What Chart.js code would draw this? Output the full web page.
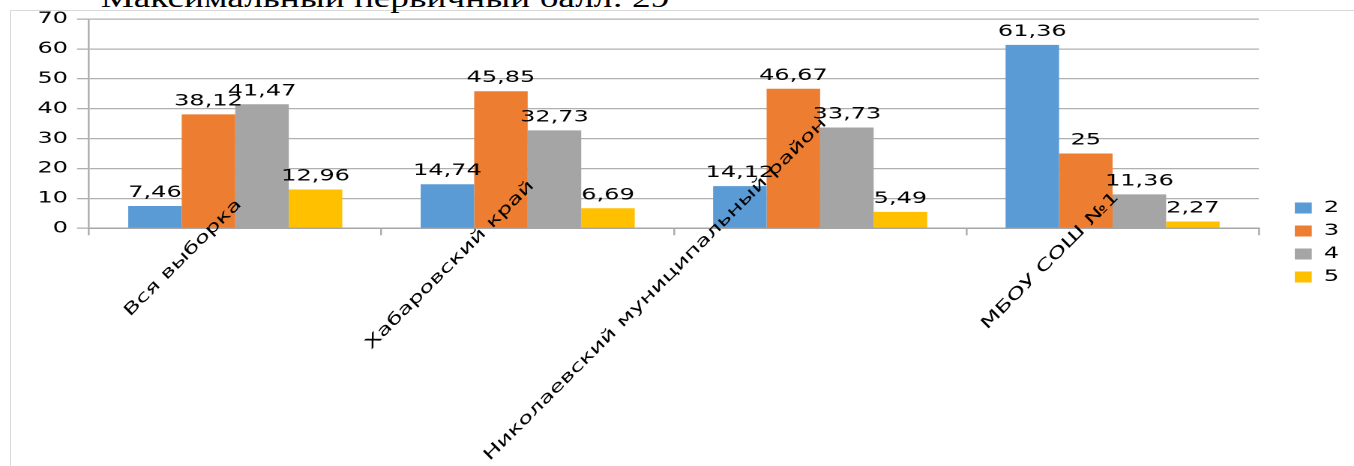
<!DOCTYPE html>
<html>
<head>
<meta charset="utf-8">
<script src="https://cdn.jsdelivr.net/npm/chart.js@4.4.1/dist/chart.umd.min.js"></script>
<style>
  html, body { margin: 0; padding: 0; background: #fff; overflow: hidden; }
  #frame { position: absolute; left: 10px; top: 10px; width: 1400px; height: 500px;
           border-left: 1px solid #d9d9d9; border-top: 1px solid #d9d9d9; }
  #heading { position: absolute; left: 385px; top: -16px; font-family: 'Liberation Serif', serif;
             font-size: 28px; line-height: 28px; white-space: nowrap; color: #000;
             transform: translateX(-50%) scaleX(1.33); transform-origin: center; }
  #chart { position: absolute; left: 0; top: 0; }
</style>
</head>
<body>
<div id="frame"></div>
<div id="heading">Максимальный первичный балл: 29</div>
<canvas id="chart" width="903" height="466" style="width:1354px;height:466px"></canvas>
<script>
const categories = ['Вся выборка', 'Хабаровский край', 'Николаевский муниципальный район', 'МБОУ СОШ №1']
const grade2 = [7.46, 14.74, 14.12, 61.36]
const grade3 = [38.12, 45.85, 46.67, 25]
const grade4 = [41.47, 32.73, 33.73, 11.36]
const grade5 = [12.96, 6.69, 5.49, 2.27]
const seriesNames = ['2', '3', '4', '5']
const seriesColors = ['#5b9bd5', '#ed7d31', '#a5a5a5', '#ffc000']

// the picture is drawn with wide type, so the canvas is stretched sideways by CSS
const STRETCH = 1354 / 903
const FONT = '16px "DejaVu Sans"'

Chart.defaults.font.family = 'DejaVu Sans'
Chart.defaults.font.size = 16
Chart.defaults.color = '#000'

const valueLabels = {
  id: 'valueLabels',
  afterDatasetsDraw(chart) {
    const ctx = chart.ctx
    ctx.save()
    ctx.font = FONT
    ctx.fillStyle = '#000'
    ctx.textAlign = 'center'
    ctx.textBaseline = 'alphabetic'
    chart.data.datasets.forEach((ds, i) => {
      chart.getDatasetMeta(i).data.forEach((bar, j) => {
        ctx.fillText(String(ds.data[j]).replace('.', ','), bar.x, bar.y - 9)
      })
    })
    ctx.restore()
  }
}

// slanted category names, kept undistorted by undoing the sideways stretch
const categoryLabels = {
  id: 'categoryLabels',
  afterDraw(chart) {
    const ctx = chart.ctx
    const x = chart.scales.x
    ctx.save()
    ctx.font = FONT
    ctx.fillStyle = '#000'
    ctx.textAlign = 'right'
    ctx.textBaseline = 'middle'
    chart.data.labels.forEach((label, i) => {
      const len = ctx.measureText(label).width * STRETCH
      const dx = len / Math.SQRT2
      ctx.save()
      ctx.scale(1 / STRETCH, 1)
      ctx.translate(x.getPixelForValue(i) * STRETCH + 4, x.top + 14 - 0.36 * dx)
      ctx.rotate(-Math.PI / 4)
      ctx.scale(STRETCH, 1)
      ctx.fillText(label, 0, 0)
      ctx.restore()
    })
    ctx.restore()
  }
}

const grades = [grade2, grade3, grade4, grade5]

new Chart(document.getElementById('chart'), {
  type: 'bar',
  data: {
    labels: categories,
    datasets: grades.map((d, i) => ({
      label: seriesNames[i],
      data: d,
      backgroundColor: seriesColors[i],
      borderWidth: 0,
      categoryPercentage: 0.732,
      barPercentage: 1,
    })),
  },
  options: {
    responsive: false,
    devicePixelRatio: 2,
    animation: false,
    layout: {padding: {top: 19, bottom: 0, left: 0, right: 0}},
    plugins: {
      tooltip: {enabled: false},
      legend: {
        position: 'right',
        labels: {boxWidth: 11.3, boxHeight: 11, padding: 7, font: {size: 16}},
      },
    },
    scales: {
      x: {
        grid: {offset: true, drawOnChartArea: false, drawTicks: true, tickLength: 7, color: '#b0b0b0', lineWidth: 1.3},
        border: {color: '#a6a6a6', width: 1.5},
        ticks: {display: false},
        afterFit: (s) => { s.height = 466 - 228.3 },
      },
      y: {
        min: 0,
        max: 70,
        ticks: {stepSize: 10, padding: 6, font: {size: 16}},
        grid: {color: '#b0b0b0', lineWidth: 1.3, tickLength: 8},
        border: {color: '#b0b0b0', width: 1.3},
        afterFit: (s) => { s.width = 89 / STRETCH },
      },
      gap: {
        type: 'linear',
        position: 'right',
        grid: {display: false},
        border: {display: false},
        ticks: {display: false},
        afterFit: (s) => { s.width = 17 },
      },
    },
  },
  plugins: [valueLabels, categoryLabels],
})
</script>
</body>
</html>
